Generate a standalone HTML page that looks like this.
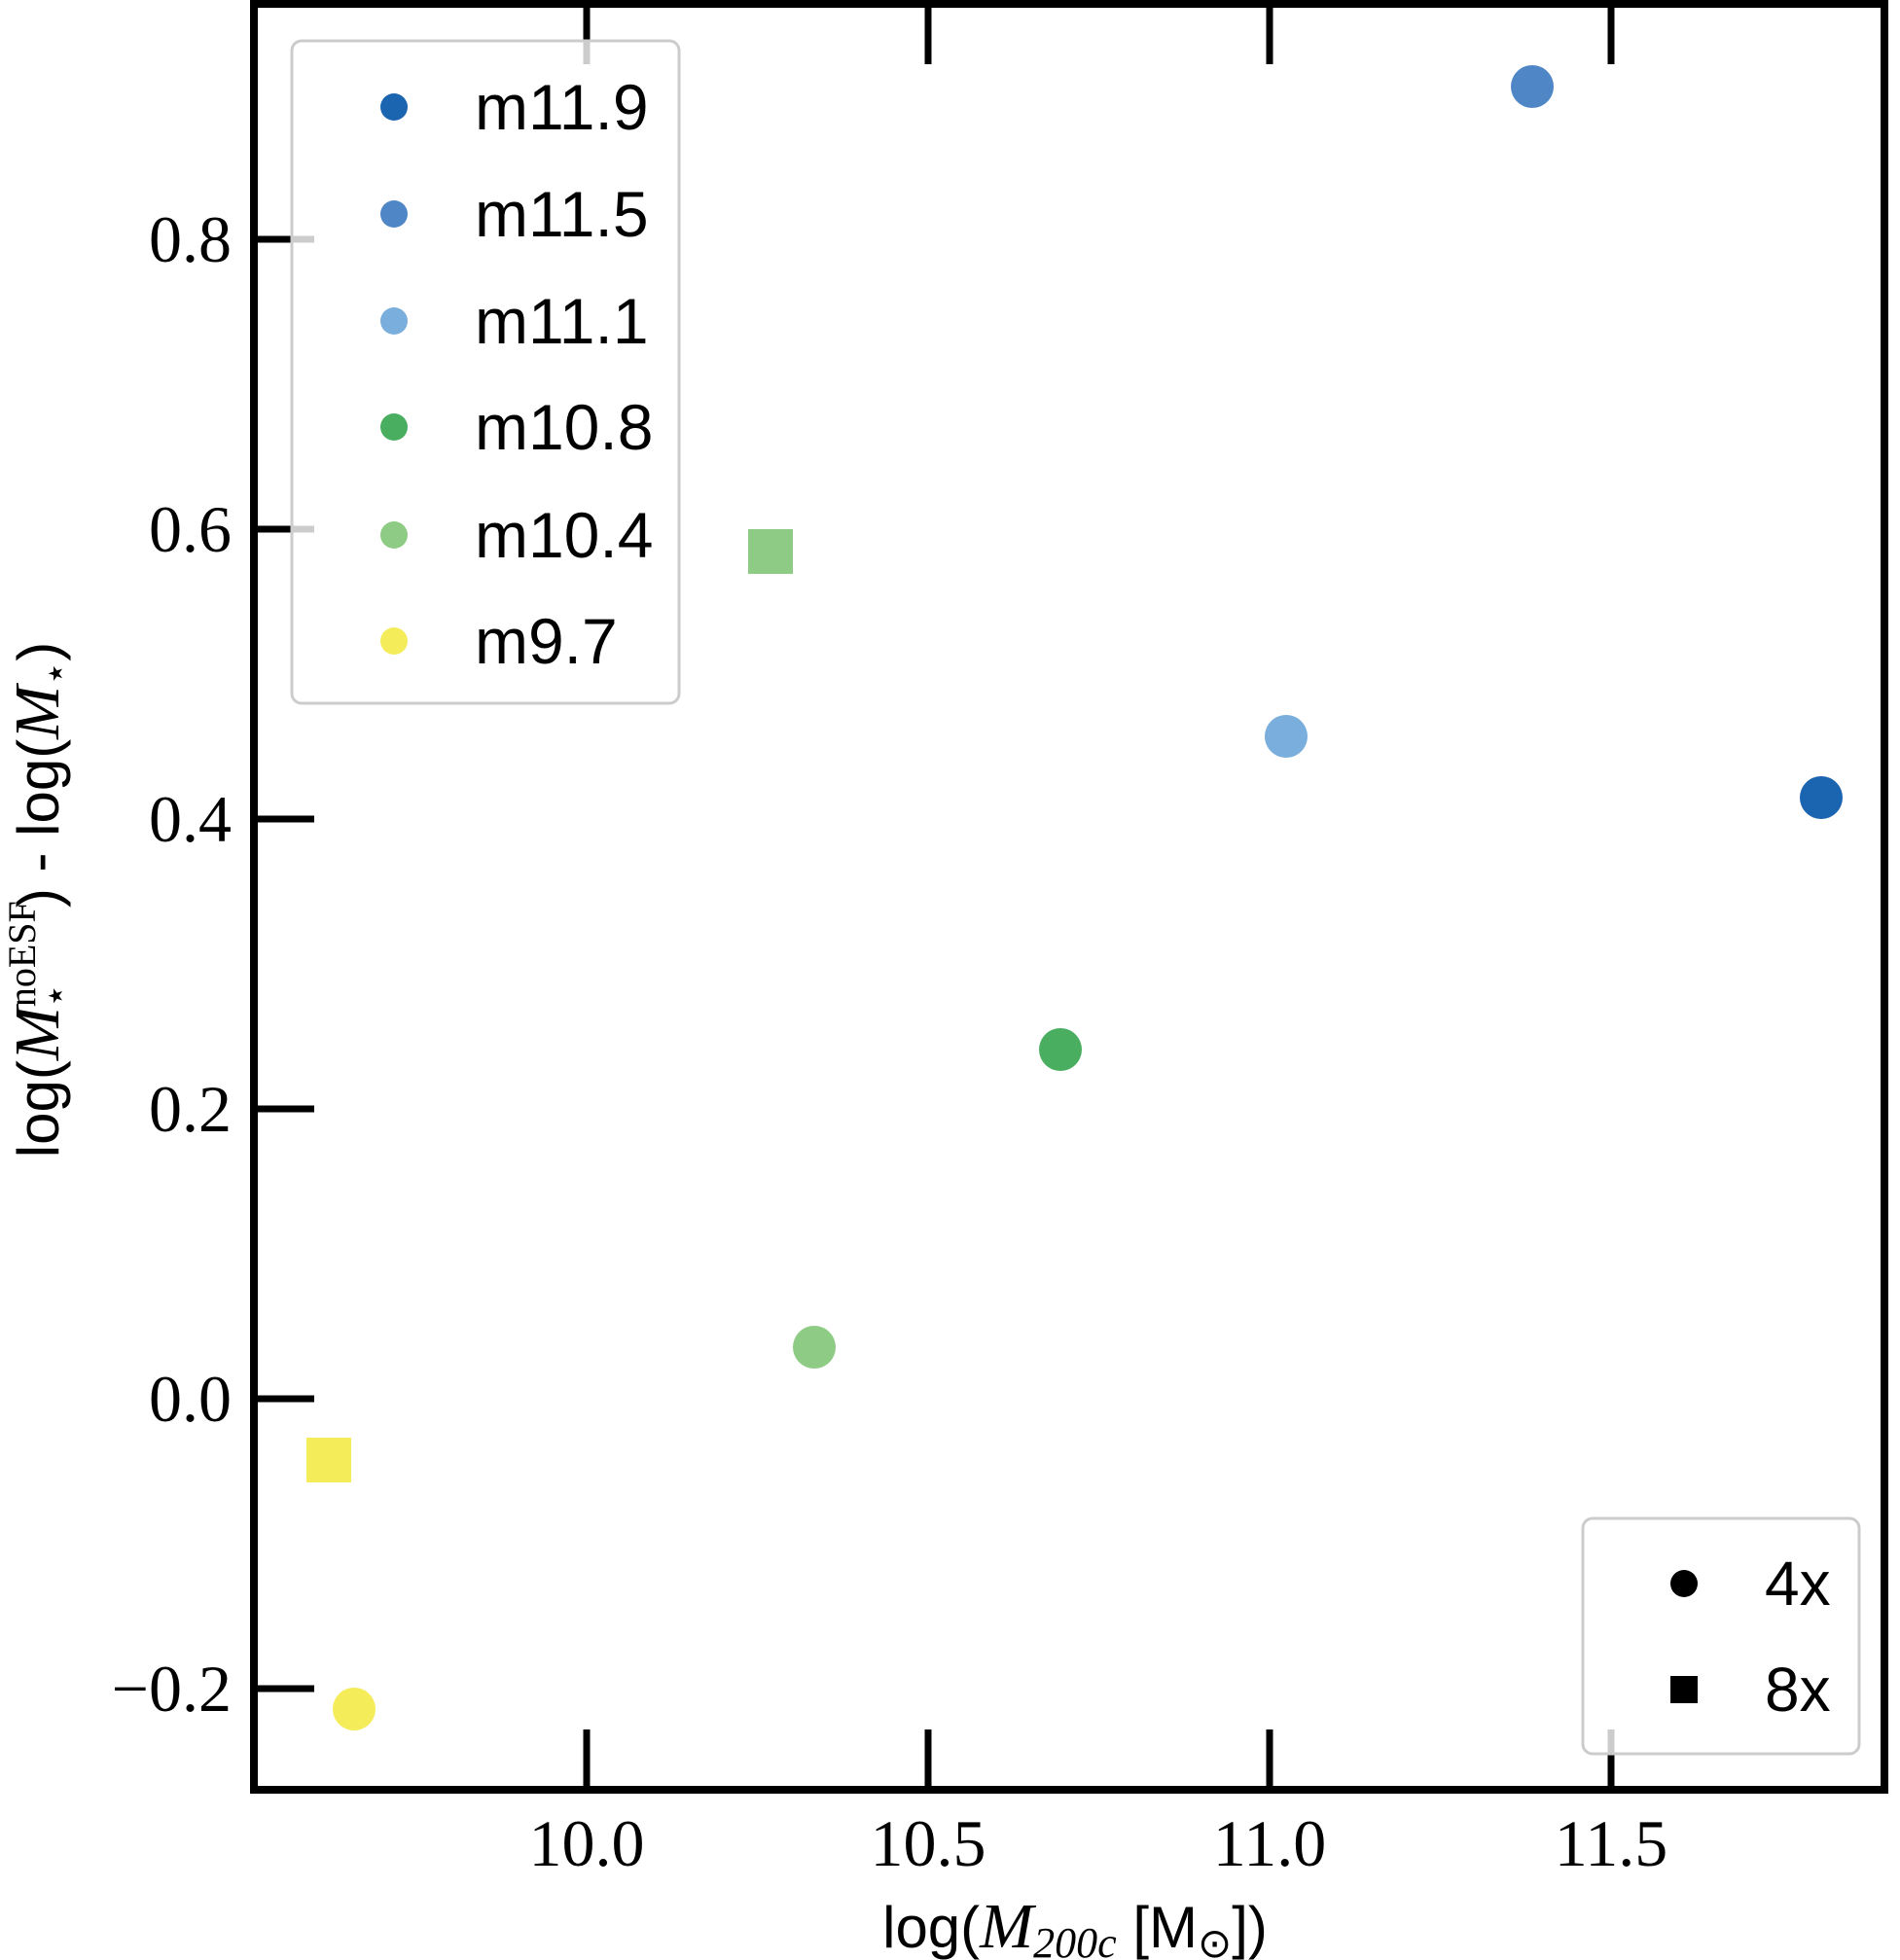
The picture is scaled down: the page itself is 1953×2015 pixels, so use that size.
<!DOCTYPE html>
<html><head><style>body{margin:0;background:#fff}svg{display:block}</style></head><body>
<svg width="1953" height="2015" viewBox="0 0 1953 2015" xmlns="http://www.w3.org/2000/svg">
<rect width="1953" height="2015" fill="#fff"/>
<g stroke="#000" stroke-width="7">
<line x1="603" y1="1840" x2="603" y2="1778"/><line x1="954" y1="1840" x2="954" y2="1778"/><line x1="1305" y1="1840" x2="1305" y2="1778"/><line x1="1656" y1="1840" x2="1656" y2="1778"/>
<line x1="603" y1="4" x2="603" y2="66"/><line x1="954" y1="4" x2="954" y2="66"/><line x1="1305" y1="4" x2="1305" y2="66"/><line x1="1656" y1="4" x2="1656" y2="66"/>
<line x1="261" y1="246" x2="323" y2="246"/><line x1="261" y1="544" x2="323" y2="544"/><line x1="261" y1="842" x2="323" y2="842"/><line x1="261" y1="1140" x2="323" y2="1140"/><line x1="261" y1="1438" x2="323" y2="1438"/><line x1="261" y1="1736" x2="323" y2="1736"/>
</g>
<g font-family="Liberation Serif, serif" font-size="68" fill="#000">
<g text-anchor="end"><text x="238" y="269">0.8</text><text x="238" y="567">0.6</text><text x="238" y="865">0.4</text><text x="238" y="1163">0.2</text><text x="238" y="1461">0.0</text><text x="238" y="1759">−0.2</text></g>
<g text-anchor="middle"><text x="603" y="1918">10.0</text><text x="954" y="1918">10.5</text><text x="1305" y="1918">11.0</text><text x="1656" y="1918">11.5</text></g>
</g>
<text x="1105" y="2002" text-anchor="middle" font-family="Liberation Sans, sans-serif" font-size="60">log(<tspan font-family="Liberation Serif, serif" font-style="italic" font-size="66">M</tspan><tspan font-family="Liberation Serif, serif" font-style="italic" font-size="44" dy="10">200c</tspan><tspan dy="-10"> [M</tspan><tspan font-size="42" dy="10">⊙</tspan><tspan dy="-10">])</tspan></text>
<text transform="translate(60,925) rotate(-90)" text-anchor="middle" font-family="Liberation Sans, sans-serif" font-size="60">log(<tspan font-family="Liberation Serif, serif" font-style="italic" font-size="66">M</tspan><tspan font-family="Liberation Serif, serif" font-size="40" dy="-24">noESF</tspan><tspan font-size="40" dy="34" dx="-110">⋆</tspan><tspan dy="-10" dx="78">) - log(</tspan><tspan font-family="Liberation Serif, serif" font-style="italic" font-size="66">M</tspan><tspan font-size="40" dy="10">⋆</tspan><tspan dy="-10">)</tspan></text>
<rect x="769" y="544" width="46" height="46" fill="#8ecb84"/>
<rect x="315" y="1478" width="46" height="46" fill="#f4ec58"/>
<circle cx="1872" cy="820" r="22" fill="#1a64b0"/>
<circle cx="1575" cy="89" r="22" fill="#4f86c6"/>
<circle cx="1322" cy="757" r="22" fill="#7aaedc"/>
<circle cx="1090" cy="1079" r="22" fill="#4aae60"/>
<circle cx="837" cy="1385" r="22" fill="#8ecb84"/>
<circle cx="364" cy="1757" r="22" fill="#f4ec58"/>
<rect x="300" y="42" width="398" height="681" rx="10" fill="rgba(255,255,255,0.8)" stroke="#ccc" stroke-width="3"/>
<g font-family="Liberation Sans, sans-serif" font-size="66">
<circle cx="405" cy="110" r="14" fill="#1a64b0"/><text x="488" y="133">m11.9</text>
<circle cx="405" cy="220" r="14" fill="#4f86c6"/><text x="488" y="243">m11.5</text>
<circle cx="405" cy="330" r="14" fill="#7aaedc"/><text x="488" y="353">m11.1</text>
<circle cx="405" cy="439" r="14" fill="#4aae60"/><text x="488" y="462">m10.8</text>
<circle cx="405" cy="550" r="14" fill="#8ecb84"/><text x="488" y="573">m10.4</text>
<circle cx="405" cy="659" r="14" fill="#f4ec58"/><text x="488" y="682">m9.7</text>
</g>
<rect x="1627" y="1561" width="284" height="242" rx="10" fill="rgba(255,255,255,0.8)" stroke="#ccc" stroke-width="3"/>
<g font-family="Liberation Sans, sans-serif" font-size="64">
<circle cx="1731" cy="1628" r="14" fill="#000"/><text x="1814" y="1650">4x</text>
<rect x="1717" y="1723" width="28" height="28" fill="#000"/><text x="1814" y="1759">8x</text>
</g>
<rect x="261" y="4" width="1676" height="1836" fill="none" stroke="#000" stroke-width="8"/>
</svg>
</body></html>
